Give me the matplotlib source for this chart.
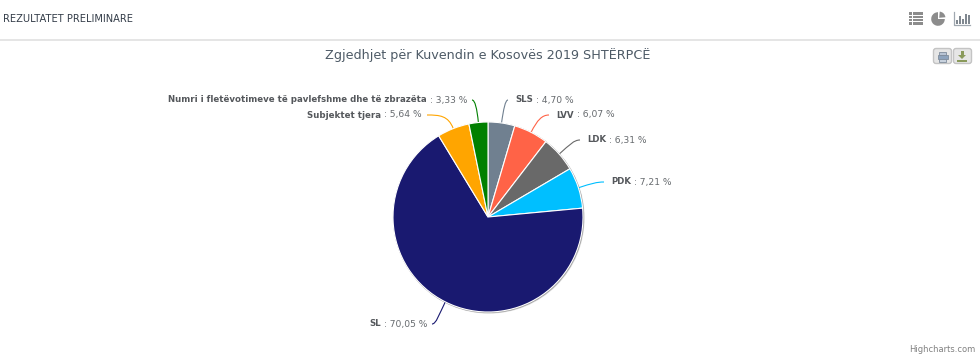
import numpy as np
import matplotlib
matplotlib.use("Agg")
import matplotlib.pyplot as plt
from matplotlib.patches import Circle, FancyBboxPatch, PathPatch, Rectangle, Wedge
from matplotlib.path import Path

# data, clockwise from 12 o'clock
parties = ["SLS", "LVV", "LDK", "PDK", "SL", "Subjektet tjera",
           "Numri i fletëvotimeve të pavlefshme dhe të zbrazëta"]
shares = [4.70, 6.07, 6.31, 7.21, 70.05, 5.64, 3.33]
colors = ["#708090", "#ff6347", "#696969", "#00bfff", "#191970", "#ffa500", "#008000"]

# label anchor in pixels and which side the text sits on
label_x = [515, 556, 587, 611, 427, 422, 467]
label_y = [100, 115, 140, 182, 324, 115, 100]
label_side = ["left", "left", "left", "left", "right", "right", "right"]

W, H = 980, 356
cx, cy, r = 488, 217, 95

plt.rcParams["font.family"] = "DejaVu Sans"
fig = plt.figure(figsize=(W / 100, H / 100), dpi=100, facecolor="white")

# full-figure axes in pixel coordinates for the page furniture and labels
page = fig.add_axes([0, 0, 1, 1])
page.set_xlim(0, W)
page.set_ylim(H, 0)
page.axis("off")

page.plot([0, W], [39.5, 39.5], color="#e0e0e0", lw=1.2)
page.text(3, 18.5, "REZULTATET PRELIMINARE", fontsize=7.15, color="#333c48", va="center")
page.text(488, 55, "Zgjedhjet për Kuvendin e Kosovës 2019 SHTËRPCË", fontsize=9.17,
          color="#4d5a66", ha="center", va="center")
page.text(975, 349, "Highcharts.com", fontsize=6.05, color="#808080", ha="right", va="center")

# header icons
icon = "#8c8c8c"
for y in [13.5, 16.8, 20.1, 23.4]:
    page.add_patch(Rectangle((909, y - 1.3), 3, 2.6, color=icon, lw=0))
    page.add_patch(Rectangle((912.8, y - 1.3), 10.2, 2.6, color=icon, lw=0))
page.add_patch(Wedge((938, 19), 6.8, 0, 270, color=icon, lw=0))
page.add_patch(Wedge((939.2, 17.8), 6.2, -85, -5, color=icon, lw=0))
page.plot([954, 954, 970], [12, 24.5, 24.5], color="#a0a8b0", lw=0.9)
for x, h in zip([956.2, 959.2, 962.2, 965.2, 968], [4, 8, 5, 10, 9]):
    page.add_patch(Rectangle((x, 24 - h), 2.1, h, color="#808890", lw=0))

# print / download buttons
for x in [933.5, 953.5]:
    page.add_patch(FancyBboxPatch((x, 48.5), 18, 15, boxstyle="round,pad=0,rounding_size=2.5",
                                  fc="#e6e6e6", ec="#c4c4c4", lw=1))
page.add_patch(Rectangle((939, 51.5), 7, 3, fc="#b8c4d4", ec="#7f8c9c", lw=0.6))
page.add_patch(Rectangle((937.5, 54.5), 10, 4, fc="#8da3bd", ec="#7f8c9c", lw=0.6))
page.add_patch(Rectangle((939, 58.5), 7, 3, fc="#c8d2de", ec="#7f8c9c", lw=0.6))
page.add_patch(Rectangle((960.5, 51), 3, 4, color="#8a9a5b", lw=0))
page.fill([958, 966, 962], [55, 55, 59], color="#8a9a5b", lw=0)
page.add_patch(Rectangle((957, 59.5), 10, 2.5, color="#8a9a5b", lw=0))

# soft shadow under the pie
for off, alpha in [(2.2, 0.10), (1.4, 0.16), (0.8, 0.22)]:
    page.add_patch(Circle((cx + off * 0.5, cy + off * 0.5), r + 0.6, color="black",
                          alpha=alpha, lw=0))

# pie, in its own axes so that the direction is not flipped
pie_ax = fig.add_axes([(cx - r) / W, 1 - (cy + r) / H, 2 * r / W, 2 * r / H])
pie_ax.pie(shares, colors=colors, startangle=90, counterclock=False, radius=1,
           wedgeprops={"edgecolor": "white", "linewidth": 0.8})
pie_ax.set_xlim(-1, 1)
pie_ax.set_ylim(-1, 1)

# labels and connectors
fracs = np.cumsum(shares) / np.sum(shares)
starts = np.concatenate([[0], fracs[:-1]])
mids = (starts + fracs) / 2 * 2 * np.pi

fig.canvas.draw()
renderer = fig.canvas.get_renderer()
for name, val, col, lx, ly, side, a in zip(parties, shares, colors, label_x, label_y, label_side, mids):
    val_txt = (" : %.2f %%" % val).replace(".", ",")
    bold = dict(fontsize=6.2, fontweight="bold", color="#55585c", va="center")
    plain = dict(fontsize=6.6, color="#666a6e", va="center")
    if side == "left":
        t = page.text(lx, ly, name, ha="left", **bold)
        x1 = t.get_window_extent(renderer).x1
        page.text(x1, ly, val_txt, ha="left", **plain)
        end_x = lx - 7
    else:
        t = page.text(lx, ly, val_txt, ha="right", **plain)
        x0 = t.get_window_extent(renderer).x0
        page.text(x0, ly, name, ha="right", **bold)
        end_x = lx + 5

    # curve from the slice edge out to the label
    sx, sy = cx + r * np.sin(a), cy - r * np.cos(a)
    ox, oy = cx + (r + 14) * np.sin(a), cy - (r + 14) * np.cos(a)
    path = Path([(sx, sy), (ox, oy), (ox + (end_x - ox) * 0.4, ly), (end_x, ly)],
                [Path.MOVETO, Path.CURVE4, Path.CURVE4, Path.CURVE4])
    page.add_patch(PathPatch(path, fc="none", ec=col, lw=0.8))

fig.savefig("out.png", dpi=100)
